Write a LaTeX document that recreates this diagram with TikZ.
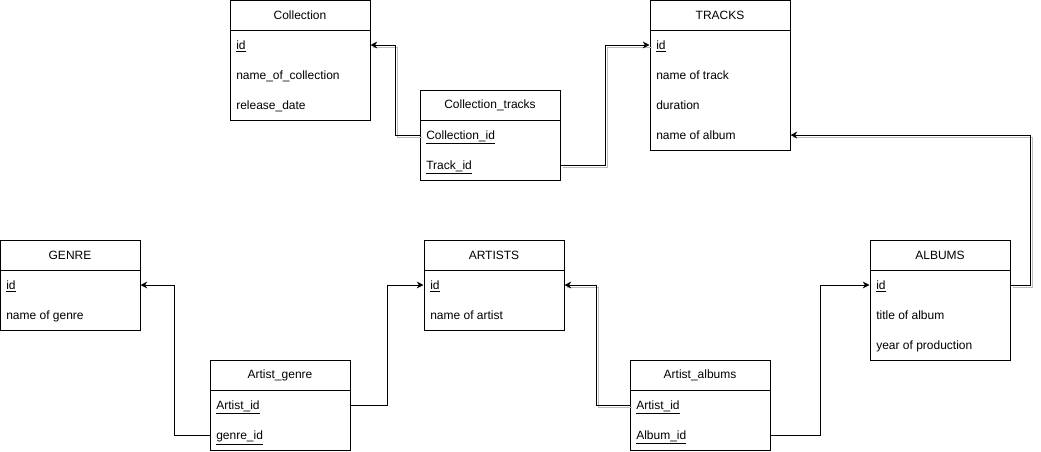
\documentclass[tikz,border=0pt]{standalone}
\usepackage{fontspec}
\setmainfont{Liberation Sans}
\usetikzlibrary{arrows.meta, positioning, calc}

\definecolor{edgeshade}{HTML}{BDBDBD}

\begin{document}
\begin{tikzpicture}[x=0.75pt, y=-0.75pt, font=\fontsize{9}{11}\selectfont, >={Stealth[length=5pt, width=5pt, inset=1.5pt]}]
  % Table Styles
  \tikzset{
    tblhead/.style={draw, line width=0.75pt, minimum width=105pt, minimum height=22.5pt, inner sep=0pt},
    tblbody/.style={draw, line width=0.75pt, minimum width=105pt, inner sep=0pt},
    rowtext/.style={anchor=west, inner sep=0pt, text height=8.6pt, text depth=2pt},
    link/.style={->, line width=0.75pt, rounded corners=0pt},
    shadelink/.style={link, preaction={draw=edgeshade, -, line width=0.75pt, transform canvas={shift={(1.5pt,-1.5pt)}}}}
  }
  \useasboundingbox (0,0) rectangle (1041,451);

  % Collection
  \node[tblhead] (coll) at (300,15) {Collection};
  \node[tblbody, minimum height=67.5pt, below=-0.75pt of coll] (collb) {};
  \node[rowtext] (coll-id) at (236,45) {\underline{id}};
  \node[rowtext] (coll-name) at (236,75) {name\_of\_collection};
  \node[rowtext] (coll-date) at (236,105) {release\_date};

  % TRACKS
  \node[tblhead] (trk) at (720,15) {TRACKS};
  \node[tblbody, minimum height=90pt, below=-0.75pt of trk] (trkb) {};
  \node[rowtext] (trk-id) at (656,45) {\underline{id}};
  \node[rowtext] (trk-name) at (656,75) {name of track};
  \node[rowtext] (trk-dur) at (656,105) {duration};
  \node[rowtext] (trk-alb) at (656,135) {name of album};

  % Collection_tracks
  \node[tblhead] (ct) at (490,105) {Collection\_tracks};
  \node[tblbody, minimum height=45pt, below=-0.75pt of ct] (ctb) {};
  \node[rowtext] (ct-cid) at (426,135) {\underline{Collection\_id}};
  \node[rowtext] (ct-tid) at (426,165) {\underline{Track\_id}};

  % GENRE
  \node[tblhead] (gen) at (70,255) {GENRE};
  \node[tblbody, minimum height=45pt, below=-0.75pt of gen] (genb) {};
  \node[rowtext] (gen-id) at (6,285) {\underline{id}};
  \node[rowtext] (gen-name) at (6,315) {name of genre};

  % ARTISTS
  \node[tblhead] (art) at (494,255) {ARTISTS};
  \node[tblbody, minimum height=45pt, below=-0.75pt of art] (artb) {};
  \node[rowtext] (art-id) at (430,285) {\underline{id}};
  \node[rowtext] (art-name) at (430,315) {name of artist};

  % ALBUMS
  \node[tblhead] (alb) at (940,255) {ALBUMS};
  \node[tblbody, minimum height=67.5pt, below=-0.75pt of alb] (albb) {};
  \node[rowtext] (alb-id) at (876,285) {\underline{id}};
  \node[rowtext] (alb-title) at (876,315) {title of album};
  \node[rowtext] (alb-year) at (876,345) {year of production};

  % Artist_genre
  \node[tblhead] (ag) at (280,375) {Artist\_genre};
  \node[tblbody, minimum height=45pt, below=-0.75pt of ag] (agb) {};
  \node[rowtext] (ag-aid) at (216,405) {\underline{Artist\_id}};
  \node[rowtext] (ag-gid) at (216,435) {\underline{genre\_id}};

  % Artist_albums
  \node[tblhead] (aa) at (700,375) {Artist\_albums};
  \node[tblbody, minimum height=45pt, below=-0.75pt of aa] (aab) {};
  \node[rowtext] (aa-aid) at (636,405) {\underline{Artist\_id}};
  \node[rowtext] (aa-alid) at (636,435) {\underline{Album\_id}};

  % Connectors
  \draw[shadelink] (ctb.west |- ct-cid) -- ++(-24,0) |- (collb.east |- coll-id);
  \draw[shadelink] (ctb.east |- ct-tid) -- ++(45,0) |- (trkb.west |- trk-id);
  \draw[shadelink] (albb.east |- alb-id) -- ++(20,0) |- (trkb.east |- trk-alb);
  \draw[link] (agb.west |- ag-gid) -- ++(-35,0) |- (genb.east |- gen-id);
  \draw[link] (agb.east |- ag-aid) -- ++(37,0) |- (artb.west |- art-id);
  \draw[shadelink] (aab.west |- aa-aid) -- ++(-33,0) |- (artb.east |- art-id);
  \draw[link] (aab.east |- aa-alid) -- ++(50,0) |- (albb.west |- alb-id);

\end{tikzpicture}
\end{document}
